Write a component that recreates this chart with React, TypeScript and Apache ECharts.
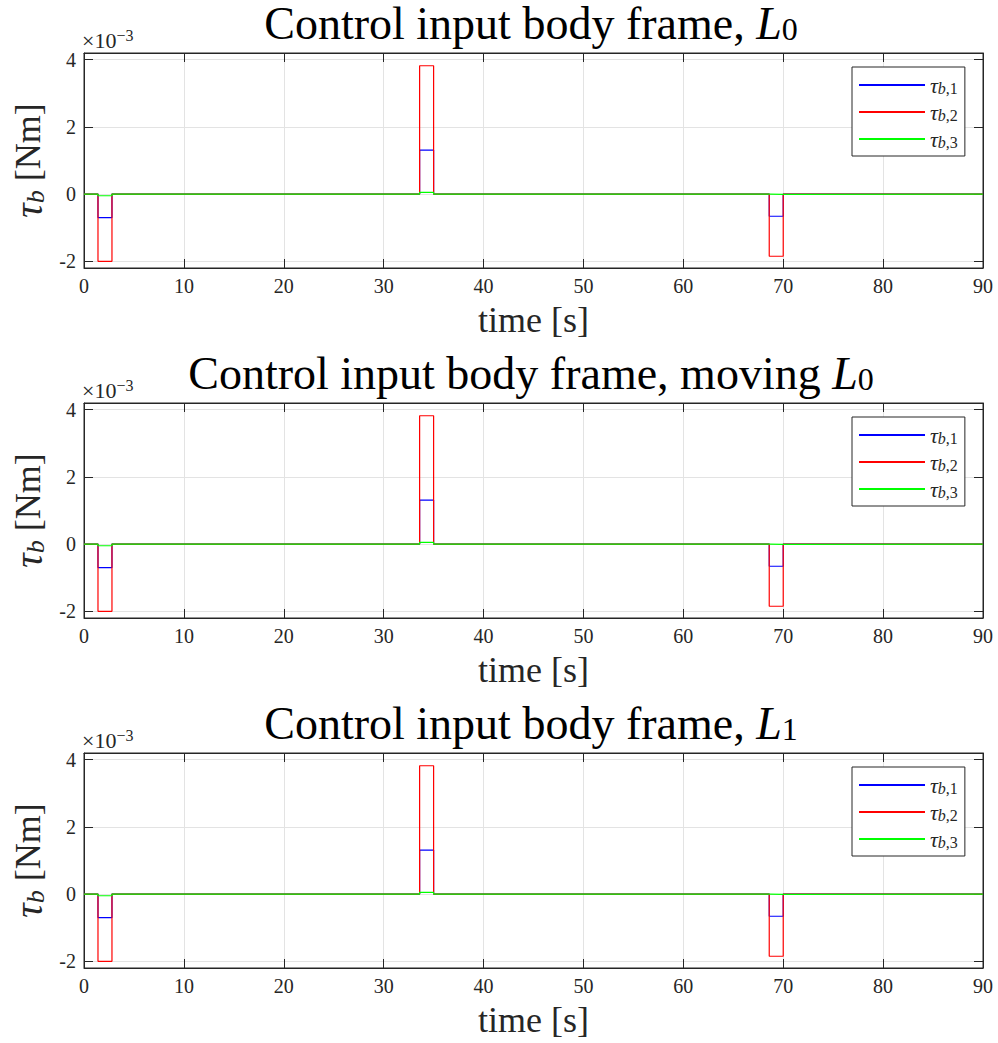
import React, { useEffect, useRef } from 'react';
import * as echarts from 'echarts';

// ---- data (values in units of 1e-3 Nm) ----
const panelTitleMain = ['Control input body frame, ', 'Control input body frame, moving ', 'Control input body frame, '];
const panelTitleSub = ['0', '0', '1'];
const pulseStart = [1.4, 33.6, 68.6];
const pulseEnd = [2.8, 35.0, 70.0];
const tauB1 = [-0.70, 1.31, -0.66];
const tauB2 = [-2.0, 3.82, -1.85];
const tauB3 = [-0.05, 0.05, -0.01];
const seriesNames = ['b,1', 'b,2', 'b,3'];
const seriesColors = ['#0000ff', '#ff0000', '#00ff00'];
const timeStart = 0;
const timeEnd = 90;
const yMin = -2.2;
const yMax = 4.2;

const FONT = "'Liberation Serif', serif";
const AXIS = '#262626';
const GRIDC = '#e3e3e3';

const gridTops = [53, 403, 753];
const GRID_LEFT = 80;
const GRID_W = 903;
const GRID_H = 215;

function stepData(vals: number[]): number[][] {
  const pts: number[][] = [[timeStart, 0]];
  for (let i = 0; i < vals.length; i++) {
    pts.push([pulseStart[i], 0], [pulseStart[i], vals[i]], [pulseEnd[i], vals[i]], [pulseEnd[i], 0]);
  }
  pts.push([timeEnd, 0]);
  return pts;
}

export default function App() {
  const ref = useRef<HTMLDivElement>(null);
  useEffect(() => {
    if (!ref.current) return;
    const chart = echarts.init(ref.current, undefined, { renderer: 'svg' });
    const grids: any[] = [];
    const xAxes: any[] = [];
    const yAxes: any[] = [];
    const series: any[] = [];
    const legends: any[] = [];
    const graphics: any[] = [];
    const allVals = [tauB1, tauB2, tauB3];

    gridTops.forEach((top, p) => {
      grids.push({
        left: GRID_LEFT, top, width: GRID_W, height: GRID_H,
        show: true, borderColor: AXIS, borderWidth: 1, backgroundColor: '#fff',
      });
      const xBase = {
        type: 'value', min: timeStart, max: timeEnd, interval: 10, gridIndex: p,
        axisLine: { show: true, onZero: false, lineStyle: { color: AXIS, width: 1 } },
        axisTick: { show: true, inside: true, length: 9, lineStyle: { color: AXIS } },
      };
      xAxes.push({
        ...xBase, position: 'bottom',
        axisLabel: { show: true, color: '#262626', fontFamily: FONT, fontSize: 20, margin: 8 },
        splitLine: { show: true, lineStyle: { color: GRIDC, width: 1 } },
        name: 'time [s]', nameLocation: 'middle', nameGap: 34,
        nameTextStyle: { fontFamily: FONT, fontSize: 36, color: '#262626' },
      });
      xAxes.push({
        ...xBase, position: 'top', axisLabel: { show: false }, splitLine: { show: false },
      });
      const yBase = {
        type: 'value', min: yMin, max: yMax, splitNumber: 3, gridIndex: p,
        axisLine: { show: true, onZero: false, lineStyle: { color: AXIS, width: 1 } },
        axisTick: { show: true, inside: true, length: 9, lineStyle: { color: AXIS } },
      };
      yAxes.push({
        ...yBase, position: 'left',
        axisLabel: {
          show: true, color: '#262626', fontFamily: FONT, fontSize: 20, margin: 8,
          showMinLabel: false, showMaxLabel: false,
          formatter: (v: number) => (Math.abs(v - Math.round(v)) < 1e-9 ? String(Math.round(v)) : ''),
        },
        splitLine: { show: true, lineStyle: { color: GRIDC, width: 1 } },
        name: '{t|τ}{s|b} [Nm]', nameLocation: 'middle', nameGap: 36, nameRotate: 90,
        nameTextStyle: {
          fontFamily: FONT, fontSize: 36, color: '#262626',
          rich: {
            t: { fontFamily: FONT, fontStyle: 'italic', fontSize: 40, color: '#262626' },
            s: { fontFamily: FONT, fontStyle: 'italic', fontSize: 26, color: '#262626', verticalAlign: 'bottom', lineHeight: 20 },
          },
        },
      });
      yAxes.push({
        ...yBase, position: 'right', axisLabel: { show: false }, splitLine: { show: false },
      });
      for (let s = 0; s < 3; s++) {
        series.push({
          type: 'line', name: seriesNames[s], xAxisIndex: p * 2, yAxisIndex: p * 2,
          data: stepData(allVals[s]), symbol: 'none', showSymbol: false,
          lineStyle: { color: seriesColors[s], width: 1.2 }, itemStyle: { color: seriesColors[s] },
          z: 2 + s, silent: true,
        });
      }
      legends.push({
        left: 852, top: top + 14, orient: 'vertical', selectedMode: false,
        data: seriesNames, backgroundColor: '#fff', borderColor: AXIS, borderWidth: 1,
        borderRadius: 0, padding: [7, 7, 6, 6], itemWidth: 66, itemHeight: 14, itemGap: 5,
        itemStyle: { opacity: 0 },
        formatter: (name: string) => {
          const parts = name.split(',');
          return `{t|τ}{si|${parts[0]}}{sr|,${parts[1]}}`;
        },
        textStyle: {
          fontFamily: FONT, fontSize: 20, color: '#262626',
          rich: {
            t: { fontFamily: FONT, fontStyle: 'italic', fontSize: 22, color: '#262626', lineHeight: 22 },
            si: { fontFamily: FONT, fontStyle: 'italic', fontSize: 16, color: '#262626', verticalAlign: 'bottom', lineHeight: 10 },
            sr: { fontFamily: FONT, fontSize: 16, color: '#262626', verticalAlign: 'bottom', lineHeight: 10 },
          },
        },
      });
      graphics.push({
        type: 'text', x: 531, y: top - 30, z: 10,
        style: {
          text: `{n|${panelTitleMain[p]}}{i|L}{s|${panelTitleSub[p]}}`,
          textAlign: 'center', textVerticalAlign: 'middle',
          rich: {
            n: { fontFamily: FONT, fontSize: 46, fill: '#000', lineHeight: 44 },
            i: { fontFamily: FONT, fontSize: 46, fontStyle: 'italic', fill: '#000', lineHeight: 44 },
            s: { fontFamily: FONT, fontSize: 32, fill: '#000', verticalAlign: 'bottom', lineHeight: 22 },
          },
        },
      });
      graphics.push({
        type: 'text', x: 82, y: top - 14, z: 10,
        style: {
          text: '{n|×10}{e|−3}',
          textVerticalAlign: 'middle',
          rich: {
            n: { fontFamily: FONT, fontSize: 22, fill: '#262626', lineHeight: 24, verticalAlign: 'bottom' },
            e: { fontFamily: FONT, fontSize: 16, fill: '#262626', lineHeight: 16, verticalAlign: 'top' },
          },
        },
      });
    });

    chart.setOption({
      animation: false,
      backgroundColor: '#fff',
      grid: grids,
      xAxis: xAxes,
      yAxis: yAxes,
      series,
      legend: legends,
      graphic: graphics,
    });
    return () => chart.dispose();
  }, []);
  return <div ref={ref} style={{ position: 'absolute', left: 0, top: 0, width: 998, height: 1043 }} />;
}
